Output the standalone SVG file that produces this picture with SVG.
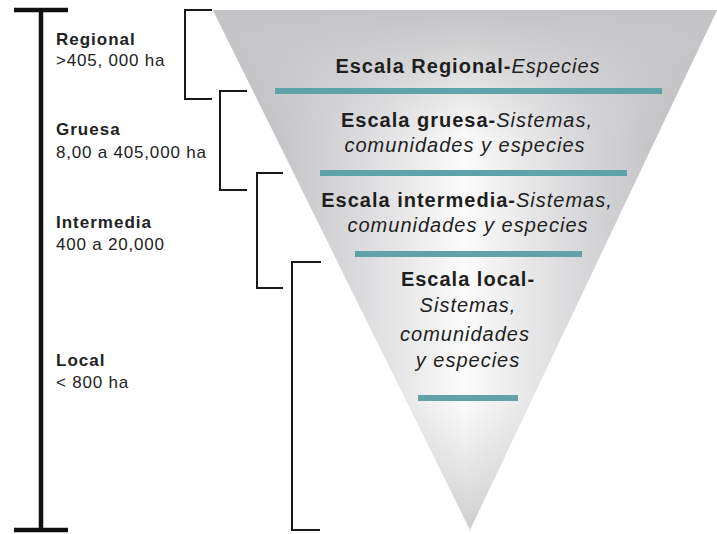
<svg xmlns="http://www.w3.org/2000/svg" width="717" height="534" viewBox="0 0 717 534">
<defs>
<linearGradient id="hgrad" gradientUnits="userSpaceOnUse" x1="213" y1="0" x2="717" y2="0">
<stop offset="0" stop-color="#b4b4b8"/>
<stop offset="0.3" stop-color="#dcdcde"/>
<stop offset="0.5" stop-color="#fbfbfb"/>
<stop offset="0.7" stop-color="#dcdcde"/>
<stop offset="1" stop-color="#b4b4b8"/>
</linearGradient>
<linearGradient id="vgrad" gradientUnits="userSpaceOnUse" x1="0" y1="10" x2="0" y2="530">
<stop offset="0" stop-color="#c4c4c7" stop-opacity="1"/>
<stop offset="0.06" stop-color="#c8c8ca" stop-opacity="0.85"/>
<stop offset="0.25" stop-color="#d0d0d2" stop-opacity="0"/>
<stop offset="0.75" stop-color="#c0c0c2" stop-opacity="0"/>
<stop offset="1" stop-color="#b0b0b2" stop-opacity="0.6"/>
</linearGradient>
<style>
.lbl{font-family:"Liberation Sans",Arial,sans-serif;fill:#222;}
.lb{font-size:17px;font-weight:bold;letter-spacing:1px;}
.lr{font-size:17px;letter-spacing:0.8px;}
.tt{font-family:"Liberation Sans",Arial,sans-serif;fill:#1e1e1e;font-size:20px;letter-spacing:1px;text-anchor:middle;}
.b{font-weight:bold;}
.i{font-style:italic;}
.bar{fill:#5fa3a8;}
.br{fill:none;stroke:#1a1a1a;stroke-width:2;}
.scale{fill:none;stroke:#111;stroke-width:4.5;}
</style>
</defs>
<rect width="717" height="534" fill="#ffffff"/>
<g id="scale">
<path class="scale" d="M41,10 V530 M14,10 H68 M14,530 H68"/>
</g>
<g id="labels">
<text class="lbl lb" x="56" y="45">Regional</text>
<text class="lbl lr" x="56" y="66">&gt;405, 000 ha</text>
<text class="lbl lb" x="56" y="135">Gruesa</text>
<text class="lbl lr" x="56" y="158">8,00 a 405,000 ha</text>
<text class="lbl lb" x="56" y="228">Intermedia</text>
<text class="lbl lr" x="56" y="250">400 a 20,000</text>
<text class="lbl lb" x="56" y="366">Local</text>
<text class="lbl lr" x="56" y="388">&lt; 800 ha</text>
</g>
<g id="funnel">
<polygon points="213,10 717,10 470,530" fill="url(#hgrad)"/>
<polygon points="213,10 717,10 470,530" fill="url(#vgrad)"/>
</g>
<g id="connectors">
<path class="br" d="M212,10 H185 V99 H212"/>
<path class="br" d="M247,91 H220 V190 H247"/>
<path class="br" d="M283,173 H257 V288 H283"/>
<path class="br" d="M321,262 H292 V530 H320"/>
</g>
<g id="regional">
<text class="tt" x="468" y="73"><tspan class="b">Escala Regional-</tspan><tspan class="i">Especies</tspan></text>
<rect class="bar" x="275" y="88" width="387" height="6"/>
</g>
<g id="gruesa">
<text class="tt" x="467" y="127"><tspan class="b">Escala gruesa-</tspan><tspan class="i">Sistemas,</tspan></text>
<text class="tt i" x="465" y="152">comunidades y especies</text>
<rect class="bar" x="320" y="170" width="307" height="6"/>
</g>
<g id="intermedia">
<text class="tt" x="467" y="207"><tspan class="b">Escala intermedia-</tspan><tspan class="i">Sistemas,</tspan></text>
<text class="tt i" x="468" y="232">comunidades y especies</text>
<rect class="bar" x="355" y="251" width="227" height="6"/>
</g>
<g id="local">
<text class="tt b" x="468" y="286">Escala local-</text>
<text class="tt i" x="468" y="312">Sistemas,</text>
<text class="tt i" x="465" y="341">comunidades</text>
<text class="tt i" x="468" y="367">y especies</text>
<rect class="bar" x="418" y="395" width="100" height="6"/>
</g>
</svg>
